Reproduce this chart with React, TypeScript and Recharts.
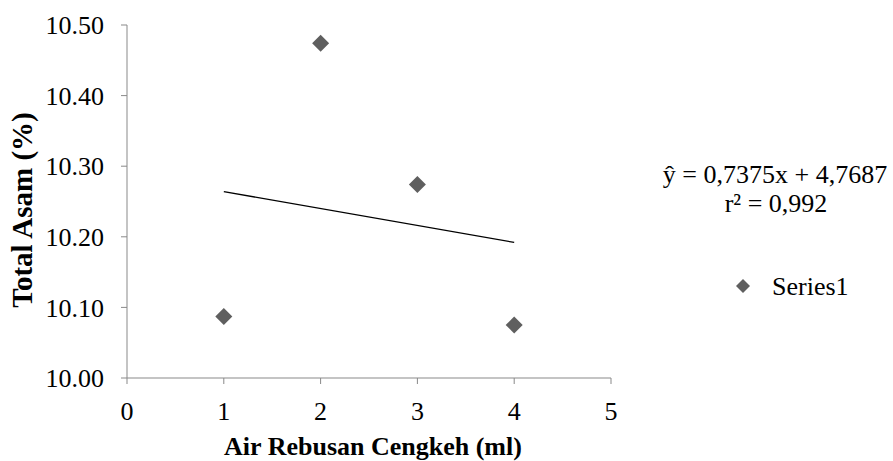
import React from "react";
import { ScatterChart, Scatter, XAxis, YAxis, ReferenceLine } from "recharts";

const xValues = [1, 2, 3, 4];
const yValues = [10.087, 10.474, 10.274, 10.075];
const trendX = [1, 4];
const trendY = [10.264, 10.192];
const xTicks = [0, 1, 2, 3, 4, 5];
const yTicks = [10.0, 10.1, 10.2, 10.3, 10.4, 10.5];
const seriesName = "Series1";
const equationText = "ŷ = 0,7375x + 4,7687";
const r2Text = "r² = 0,992";
const xTitle = "Air Rebusan Cengkeh (ml)";
const yTitle = "Total Asam (%)";

const data = xValues.map((x, i) => ({ x, y: yValues[i] }));

const MARKER = "#5f5f5f";
const AXIS = "#898989";
const FONT = "'Liberation Serif', 'Times New Roman', serif";

const Diamond = (props: any) => {
  const { cx, cy } = props;
  const r = 8.5;
  return (
    <polygon
      points={`${cx},${cy - r} ${cx + r},${cy} ${cx},${cy + r} ${cx - r},${cy}`}
      fill={MARKER}
    />
  );
};

export default function App() {
  return (
    <div style={{ position: "absolute", left: 0, top: 0, width: 893, height: 461, background: "#fff" }}>
      <ScatterChart
        width={893}
        height={461}
        margin={{ top: 25, right: 282, bottom: 43, left: 47 }}
      >
        <XAxis
          type="number"
          dataKey="x"
          domain={[0, 5]}
          ticks={xTicks}
          interval={0}
          height={40}
          tickSize={6}
          tickMargin={18}
          stroke={AXIS}
          tick={{ fill: "#000", fontSize: 26, fontFamily: FONT }}
          tickLine={{ stroke: AXIS }}
          axisLine={{ stroke: AXIS }}
        />
        <YAxis
          type="number"
          dataKey="y"
          domain={[10, 10.5]}
          ticks={yTicks}
          interval={0}
          width={80}
          tickSize={6}
          tickMargin={17}
          tickFormatter={(v: number) => v.toFixed(2)}
          tick={{ fill: "#000", fontSize: 26, fontFamily: FONT }}
          tickLine={{ stroke: AXIS }}
          axisLine={{ stroke: AXIS }}
        />
        <ReferenceLine
          segment={[
            { x: trendX[0], y: trendY[0] },
            { x: trendX[1], y: trendY[1] },
          ]}
          stroke="#000"
          strokeWidth={1.3}
          ifOverflow="visible"
        />
        <Scatter
          name={seriesName}
          data={data}
          shape={<Diamond />}
          isAnimationActive={false}
        />
      </ScatterChart>
      <svg
        width={893}
        height={461}
        style={{ position: "absolute", left: 0, top: 0, pointerEvents: "none" }}
        fontFamily={FONT}
      >
        <text x={775} y={183} fontSize={26} textAnchor="middle" fill="#000">{equationText}</text>
        <text x={776} y={212} fontSize={26} textAnchor="middle" fill="#000">{r2Text}</text>
        <polygon points="743,279 750,286 743,293 736,286" fill={MARKER} />
        <text x={772} y={295} fontSize={26} fill="#000">{seriesName}</text>
        <text x={373} y={455} fontSize={26} fontWeight="bold" textAnchor="middle" fill="#000">{xTitle}</text>
        <text
          x={0}
          y={0}
          fontSize={29}
          fontWeight="bold"
          textAnchor="middle"
          fill="#000"
          transform="translate(32,210) rotate(-90)"
        >
          {yTitle}
        </text>
      </svg>
    </div>
  );
}
